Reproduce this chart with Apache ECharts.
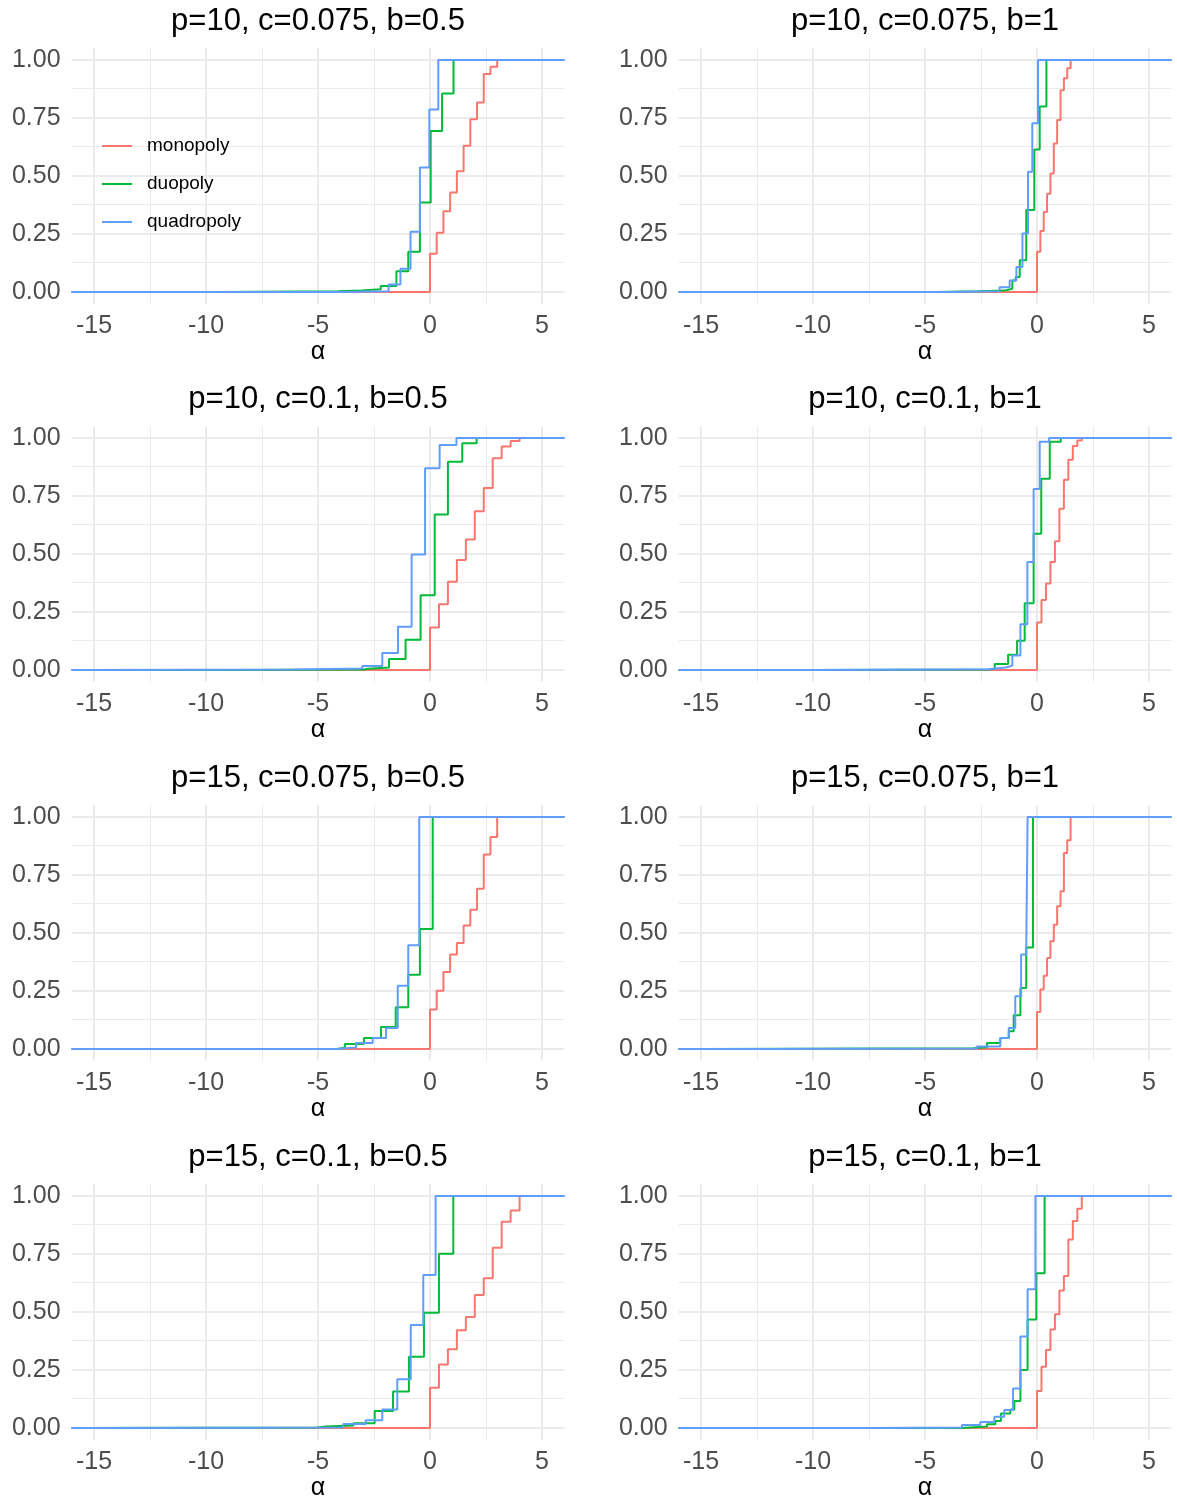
<!DOCTYPE html>
<html><head><meta charset="utf-8">
<script src="https://cdn.jsdelivr.net/npm/echarts@6/dist/echarts.min.js"></script>
<style>html,body{margin:0;padding:0;background:#fff;overflow:hidden}#c{width:1177px;height:1499px}</style>
</head><body><div id="c"></div>
<script>
// ---- data ----
const seriesNames = ['monopoly', 'duopoly', 'quadropoly'];
const titles = ['p=10, c=0.075, b=0.5', 'p=10, c=0.075, b=1', 'p=10, c=0.1, b=0.5', 'p=10, c=0.1, b=1',
                'p=15, c=0.075, b=0.5', 'p=15, c=0.075, b=1', 'p=15, c=0.1, b=0.5', 'p=15, c=0.1, b=1'];
const xTicks = [-15, -10, -5, 0, 5];
const xMinor = [-12.5, -7.5, -2.5, 2.5];
const yTicks = [0, 0.25, 0.5, 0.75, 1];
const yMinor = [0.125, 0.375, 0.625, 0.875];
const xRange = [-16, 6];
const yRange = [-0.05, 1.05];

// ECDF jump points [alpha, F]
const mono1 = [[0,0.165],[0.3,0.255],[0.6,0.348],[0.9,0.429],[1.2,0.521],[1.5,0.63],[1.8,0.745],[2.1,0.817],[2.4,0.94],[2.7,0.971],[3.0,1]];
const duo1  = [[-9.5,0.003],[-4.1,0.006],[-3.05,0.012],[-2.2,0.026],[-1.5,0.089],[-0.97,0.174],[-0.45,0.386],[0.03,0.694],[0.54,0.856],[1.05,1]];
const quad1 = [[-4.0,0.003],[-1.85,0.032],[-1.32,0.10],[-0.87,0.26],[-0.45,0.537],[-0.03,0.787],[0.37,1]];

const mono2 = [[0,0.173],[0.15,0.263],[0.3,0.345],[0.45,0.424],[0.6,0.511],[0.75,0.64],[0.9,0.741],[1.05,0.87],[1.2,0.921],[1.35,0.964],[1.5,1]];
const duo2  = [[-4.5,0.003],[-2.6,0.006],[-1.45,0.014],[-1.1,0.05],[-0.95,0.065],[-0.77,0.137],[-0.48,0.353],[-0.12,0.614],[0.12,0.8],[0.42,1]];
const quad2 = [[-4.0,0.003],[-1.67,0.02],[-1.22,0.05],[-0.92,0.108],[-0.65,0.252],[-0.4,0.518],[-0.21,0.727],[0.045,1]];

const mono3 = [[0,0.183],[0.4,0.283],[0.8,0.38],[1.2,0.474],[1.6,0.562],[2.0,0.684],[2.4,0.784],[2.8,0.913],[3.2,0.963],[3.6,0.987],[4.0,1]];
const duo3  = [[-9,0.002],[-2.95,0.005],[-2.77,0.011],[-1.83,0.047],[-1.09,0.13],[-0.42,0.322],[0.21,0.67],[0.8,0.898],[1.44,0.977],[2.08,1]];
const quad3 = [[-15.3,0.002],[-6.07,0.007],[-3.02,0.017],[-2.13,0.073],[-1.43,0.186],[-0.82,0.498],[-0.22,0.87],[0.43,0.97],[1.18,1]];

const mono4 = [[0,0.205],[0.2,0.302],[0.4,0.373],[0.6,0.466],[0.8,0.555],[1.0,0.695],[1.2,0.82],[1.4,0.906],[1.6,0.966],[1.8,0.989],[2.0,1]];
const duo4  = [[-10,0.002],[-2.1,0.005],[-1.89,0.026],[-1.29,0.066],[-0.89,0.126],[-0.55,0.288],[-0.15,0.587],[0.19,0.824],[0.57,0.984],[1.06,1]];
const quad4 = [[-10,0.003],[-2.19,0.011],[-1.4,0.019],[-1.1,0.062],[-0.74,0.197],[-0.43,0.466],[-0.15,0.78],[0.12,0.984],[0.54,1]];

const mono5 = [[0,0.17],[0.3,0.251],[0.6,0.332],[0.9,0.407],[1.2,0.457],[1.5,0.532],[1.8,0.6],[2.1,0.691],[2.4,0.838],[2.7,0.914],[3.0,1]];
const duo5  = [[-4.17,0.005],[-3.8,0.022],[-2.95,0.047],[-2.19,0.095],[-1.53,0.18],[-0.97,0.32],[-0.45,0.517],[0.12,1]];
const quad5 = [[-4.17,0.007],[-3.3,0.026],[-2.56,0.047],[-1.96,0.09],[-1.44,0.273],[-0.97,0.447],[-0.48,1]];

const mono6 = [[0,0.16],[0.15,0.256],[0.3,0.316],[0.45,0.392],[0.6,0.464],[0.75,0.536],[0.9,0.615],[1.05,0.68],[1.2,0.845],[1.35,0.9],[1.5,1]];
const duo6  = [[-15,0.003],[-2.83,0.007],[-2.23,0.026],[-1.64,0.047],[-1.26,0.076],[-1.04,0.145],[-0.74,0.263],[-0.48,0.438],[-0.18,1]];
const quad6 = [[-12,0.002],[-2.68,0.011],[-1.64,0.047],[-1.26,0.09],[-0.97,0.227],[-0.71,0.407],[-0.48,0.44],[-0.42,1]];

const mono7 = [[0,0.174],[0.4,0.274],[0.8,0.339],[1.2,0.421],[1.6,0.478],[2.0,0.573],[2.4,0.645],[2.8,0.777],[3.2,0.889],[3.6,0.938],[4.0,1]];
const duo7  = [[-15.5,0.002],[-5.03,0.006],[-4.66,0.011],[-3.42,0.02],[-2.47,0.073],[-1.65,0.157],[-0.94,0.307],[-0.27,0.497],[0.4,0.751],[1.04,1]];
const quad7 = [[-15.5,0.002],[-3.87,0.017],[-2.87,0.033],[-2.13,0.08],[-1.46,0.21],[-0.86,0.444],[-0.3,0.66],[0.25,1]];

const mono8 = [[0,0.16],[0.2,0.264],[0.4,0.336],[0.6,0.425],[0.8,0.49],[1.0,0.593],[1.2,0.655],[1.4,0.813],[1.6,0.892],[1.8,0.945],[2.0,1]];
const duo8  = [[-3.4,0.006],[-2.23,0.016],[-1.86,0.03],[-1.61,0.063],[-1.19,0.08],[-1.01,0.116],[-0.74,0.25],[-0.42,0.468],[-0.03,0.667],[0.34,1]];
const quad8 = [[-7.5,0.002],[-3.35,0.013],[-2.53,0.026],[-1.9,0.049],[-1.46,0.078],[-1.07,0.17],[-0.74,0.394],[-0.42,0.598],[-0.07,1]];

const panels = [[mono1,duo1,quad1],[mono2,duo2,quad2],[mono3,duo3,quad3],[mono4,duo4,quad4],
                [mono5,duo5,quad5],[mono6,duo6,quad6],[mono7,duo7,quad7],[mono8,duo8,quad8]];

// ---- styling / layout ----
const colors = ['#F8766D', '#00BA38', '#619CFF'];
const FONT = '"Liberation Sans", Arial, sans-serif';
const GRIDC = '#EBEBEB';
const colLeft = [71.6, 678.6];
const rowTop = [48.4, 426.4, 805.4, 1184.4];
const panelW = 492.8, panelH = 255.2;

function ecdf(pts) {
  return [[xRange[0], 0]].concat(pts).concat([[xRange[1], 1]]);
}

const grids = [], xAxes = [], yAxes = [], series = [], titleOpts = [];
for (let i = 0; i < 8; i++) {
  const col = i % 2, row = Math.floor(i / 2);
  const left = colLeft[col], top = rowTop[row];
  grids.push({ left: left, top: top, width: panelW, height: panelH, containLabel: false, outerBoundsMode: 'none' });
  xAxes.push({
    type: 'value', gridIndex: i, min: xRange[0], max: xRange[1],
    axisLine: { show: false }, axisTick: { show: false, customValues: xTicks },
    splitLine: { show: false }, minorSplitLine: { show: false },
    axisLabel: { customValues: xTicks, color: '#4D4D4D', fontSize: 25, margin: 10, fontFamily: FONT },
    name: 'α', nameLocation: 'middle', nameGap: 36,
    nameTextStyle: { color: '#000', fontSize: 25, fontFamily: FONT }
  });
  yAxes.push({
    type: 'value', gridIndex: i, min: yRange[0], max: yRange[1],
    axisLine: { show: false }, axisTick: { show: false, customValues: yTicks },
    splitLine: { show: false },
    axisLabel: { customValues: yTicks, formatter: v => v.toFixed(2), color: '#4D4D4D', fontSize: 25, margin: 11, fontFamily: FONT }
  });
  titleOpts.push({
    text: titles[i], left: left + panelW / 2, top: top - 42, textAlign: 'center', padding: 0,
    textStyle: { fontSize: 31, fontWeight: 'normal', color: '#000', fontFamily: FONT }
  });
  const gl = [];
  xTicks.forEach(v => gl.push({ xAxis: v, lineStyle: { color: GRIDC, width: 2, type: 'solid' } }));
  xMinor.forEach(v => gl.push({ xAxis: v, lineStyle: { color: GRIDC, width: 1, type: 'solid' } }));
  yTicks.forEach(v => gl.push({ yAxis: v, lineStyle: { color: GRIDC, width: 2, type: 'solid' } }));
  yMinor.forEach(v => gl.push({ yAxis: v, lineStyle: { color: GRIDC, width: 1, type: 'solid' } }));
  series.push({
    type: 'line', name: '_grid' + i, xAxisIndex: i, yAxisIndex: i, data: [], silent: true, z: 1,
    markLine: { silent: true, symbol: 'none', z: 1, animation: false, label: { show: false },
                emphasis: { disabled: true }, data: gl }
  });
  for (let k = 0; k < 3; k++) {
    series.push({
      type: 'line', name: seriesNames[k], xAxisIndex: i, yAxisIndex: i, step: 'end',
      symbol: 'none', showSymbol: false, silent: true, z: 3 + k,
      lineStyle: { width: 2, color: colors[k] }, itemStyle: { color: colors[k] },
      data: ecdf(panels[i][k])
    });
  }
}

const chart = echarts.init(document.getElementById('c'));
chart.setOption({
  animation: false,
  backgroundColor: '#fff',
  color: colors,
  title: titleOpts,
  grid: grids,
  xAxis: xAxes,
  yAxis: yAxes,
  legend: {
    data: seriesNames, orient: 'vertical', left: 102, top: 136, padding: 0,
    icon: 'rect', itemWidth: 30, itemHeight: 2, itemGap: 18, selectedMode: false,
    textStyle: { fontSize: 19, lineHeight: 20, color: '#000', fontFamily: FONT, padding: [0, 0, 0, 10] }
  },
  series: series
});
</script>
</body></html>
